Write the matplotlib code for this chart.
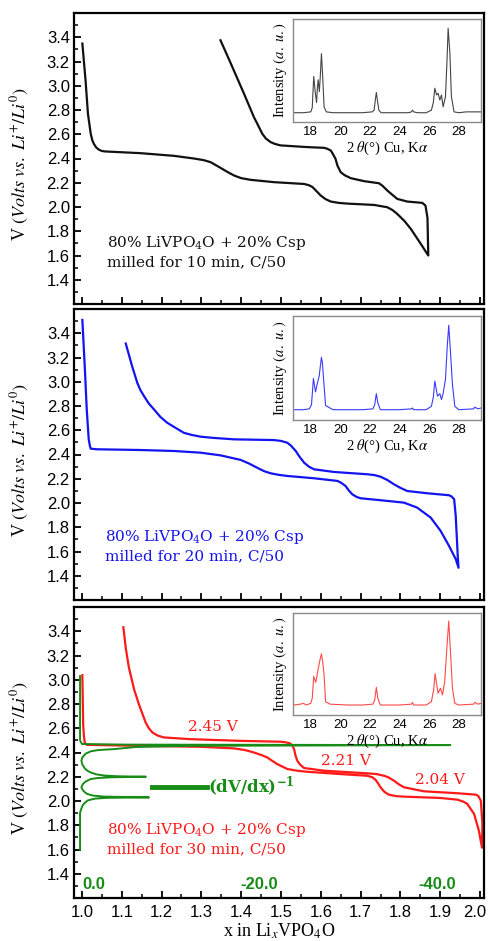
import numpy as np
import matplotlib.pyplot as plt
import matplotlib.transforms as mtransforms
from matplotlib.ticker import MultipleLocator
from matplotlib.lines import Line2D

# ---- galvanostatic curves (x in LixVPO4O, volts): discharge then charge ----
x10 = [1.001, 1.009, 1.015, 1.022, 1.026, 1.030, 1.036, 1.043, 1.050, 1.059, 1.147, 1.231,
       1.281, 1.305, 1.323, 1.348, 1.365, 1.382, 1.400, 1.424, 1.482, 1.558, 1.570, 1.579,
       1.590, 1.600, 1.612, 1.625, 1.645, 1.667, 1.734, 1.767, 1.780, 1.792, 1.810, 1.826,
       1.851, 1.870,
       1.868, 1.863, 1.855, 1.817, 1.792, 1.780, 1.767, 1.755, 1.746, 1.709, 1.675, 1.660,
       1.650, 1.642, 1.637, 1.630, 1.625, 1.615, 1.608, 1.566, 1.499, 1.485, 1.474, 1.462,
       1.453, 1.440, 1.432, 1.407, 1.374, 1.348]
v10 = [3.348, 3.045, 2.77, 2.604, 2.55, 2.52, 2.49, 2.472, 2.462, 2.458, 2.444, 2.422,
       2.40, 2.387, 2.37, 2.323, 2.29, 2.26, 2.238, 2.224, 2.205, 2.19, 2.18, 2.165,
       2.128, 2.094, 2.065, 2.045, 2.034, 2.028, 2.017, 1.998, 1.975, 1.943, 1.885, 1.82,
       1.697, 1.60,
       1.91, 2.012, 2.034, 2.045, 2.067, 2.10, 2.136, 2.175, 2.196, 2.213, 2.238, 2.262,
       2.287, 2.34, 2.397, 2.44, 2.466, 2.482, 2.488, 2.494, 2.508, 2.52, 2.535, 2.565,
       2.604, 2.69, 2.741, 2.935, 3.183, 3.375]

x20 = [1.001, 1.007, 1.012, 1.017, 1.020, 1.022, 1.038, 1.147, 1.231, 1.298, 1.348, 1.399,
       1.420, 1.440, 1.458, 1.474, 1.495, 1.516, 1.583, 1.642, 1.652, 1.662, 1.670, 1.679,
       1.690, 1.700, 1.750, 1.809, 1.842, 1.876, 1.901, 1.922, 1.939, 1.946,
       1.944, 1.939, 1.935, 1.928, 1.922, 1.868, 1.817, 1.800, 1.784, 1.767, 1.750, 1.735,
       1.717, 1.633, 1.583, 1.570, 1.558, 1.547, 1.537, 1.526, 1.516, 1.500, 1.482, 1.382,
       1.330, 1.298, 1.275, 1.256, 1.235, 1.214, 1.197, 1.181, 1.168, 1.156, 1.147, 1.139,
       1.126, 1.110]
v20 = [3.51, 3.128, 2.772, 2.525, 2.47, 2.448, 2.443, 2.437, 2.429, 2.415, 2.393, 2.355,
       2.325, 2.291, 2.262, 2.245, 2.232, 2.223, 2.204, 2.182, 2.165, 2.141, 2.105, 2.072,
       2.05, 2.039, 2.023, 2.003, 1.962, 1.88, 1.77, 1.647, 1.537, 1.466,
       1.565, 1.894, 2.031, 2.055, 2.064, 2.08, 2.099, 2.125, 2.154, 2.19, 2.217, 2.23,
       2.237, 2.256, 2.278, 2.30, 2.333, 2.38, 2.429, 2.47, 2.497, 2.512, 2.519, 2.525,
       2.537, 2.547, 2.562, 2.579, 2.62, 2.662, 2.71, 2.772, 2.82, 2.881, 2.93, 2.991,
       3.128, 3.315]

x30 = [1.001, 1.003, 1.005, 1.007, 1.010, 1.013, 1.147, 1.298, 1.382, 1.410, 1.432, 1.450,
       1.465, 1.490, 1.516, 1.540, 1.566, 1.650, 1.717, 1.730, 1.738, 1.745, 1.750, 1.760,
       1.771, 1.790, 1.809, 1.901, 1.943, 1.958, 1.968, 1.985, 1.997, 2.005,
       2.006, 2.002, 1.996, 1.990, 1.943, 1.859, 1.809, 1.795, 1.784, 1.770, 1.759, 1.740,
       1.717, 1.608, 1.558, 1.548, 1.541, 1.536, 1.533, 1.528, 1.523, 1.510, 1.499, 1.399,
       1.273, 1.206, 1.190, 1.177, 1.168, 1.160, 1.143, 1.131, 1.118, 1.110, 1.104]
v30 = [3.038, 2.633, 2.53, 2.483, 2.468, 2.463, 2.455, 2.447, 2.434, 2.42, 2.40, 2.38,
       2.36, 2.305, 2.264, 2.25, 2.241, 2.222, 2.208, 2.195, 2.173, 2.14, 2.113, 2.075,
       2.052, 2.04, 2.036, 2.025, 2.011, 1.995, 1.976, 1.894, 1.757, 1.615,
       1.812, 2.003, 2.04, 2.052, 2.064, 2.08, 2.113, 2.14, 2.167, 2.195, 2.208, 2.222,
       2.228, 2.25, 2.272, 2.30, 2.332, 2.38, 2.428, 2.46, 2.475, 2.485, 2.489, 2.496,
       2.51, 2.524, 2.54, 2.565, 2.60, 2.647, 2.798, 2.921, 3.099, 3.263, 3.433]

# (dV/dx)^-1 for the 30 min sample, on its own reversed scale
dvdx_v = [1.60, 1.90, 1.921, 1.96, 1.98, 2.003, 2.01, 2.02, 2.026, 2.030, 2.036, 2.045,
          2.058, 2.07, 2.09, 2.112, 2.14, 2.16, 2.181, 2.19, 2.196, 2.200, 2.204, 2.21,
          2.22, 2.235, 2.25, 2.27, 2.30, 2.332, 2.36, 2.39, 2.41, 2.42, 2.428, 2.445,
          2.455, 2.461, 2.465, 2.47, 2.50, 3.03]
dvdx_val = [0.22, 0.22, 0.15, -0.05, -0.25, -0.6, -0.9, -1.5, -2.8, -7.55, -2.5, -1.2,
            -0.6, -0.35, -0.1, 0.07, -0.1, -0.4, -0.98, -1.8, -3.5, -7.2, -4.0, -2.5,
            -1.6, -1.0, -0.6, -0.3, -0.05, 0.07, -0.05, -0.4, -1.0, -1.8, -3.6, -6.0,
            -12.0, -41.5, -5.0, 0.0, 0.22, 0.22]
dvdx_ticks = [0, -20, -40]
dvdx_ticklabels = ['0.0', '-20.0', '-40.0']

plateaus = ['2.45 V', '2.21 V', '2.04 V']
plateau_x = [1.33, 1.663, 1.90]
plateau_y = [2.61, 2.33, 2.17]

# ---- XRD insets (2 theta, normalised intensity) ----
tt10 = [16.85, 17.5, 18.0, 18.1, 18.2, 18.3, 18.39, 18.45, 18.5, 18.58, 18.65, 18.72, 18.8,
        18.9, 19.05, 19.5, 20.5, 21.5, 22.15, 22.28, 22.36, 22.43, 22.5, 22.6, 22.75, 23.5,
        24.6, 24.8, 24.87, 24.95, 25.2, 25.8, 26.15, 26.28, 26.38, 26.5, 26.6, 26.72, 26.83,
        26.94, 27.1, 27.2, 27.28, 27.4, 27.5, 27.68, 28.0, 28.5, 29.5]
i10 = [0.0, 0.0, 0.01, 0.06, 0.43, 0.25, 0.12, 0.30, 0.39, 0.25, 0.45, 0.70, 0.45,
       0.07, 0.01, 0.0, 0.0, 0.0, 0.01, 0.03, 0.15, 0.24, 0.15, 0.03, 0.0, 0.0,
       0.0, 0.01, 0.03, 0.01, 0.0, 0.0, 0.03, 0.12, 0.29, 0.21, 0.23, 0.15, 0.21,
       0.07, 0.19, 0.60, 1.0, 0.70, 0.19, 0.01, 0.0, 0.01, 0.01]

tt20 = [16.85, 17.5, 17.9, 18.05, 18.18, 18.32, 18.43, 18.57, 18.65, 18.72, 18.79, 18.86,
        19.0, 19.3, 19.5, 20.5, 21.5, 22.2, 22.32, 22.43, 22.53, 22.7, 24.0, 24.8, 24.87,
        24.95, 25.8, 26.15, 26.28, 26.38, 26.47, 26.56, 26.72, 26.83, 26.94, 27.1, 27.22,
        27.32, 27.45, 27.57, 27.73, 28.0, 29.0, 29.08, 29.3, 29.5]
i20 = [0.0, 0.0, 0.01, 0.06, 0.37, 0.21, 0.30, 0.40, 0.52, 0.62, 0.55, 0.375,
       0.05, 0.02, 0.0, 0.0, 0.0, 0.01, 0.06, 0.19, 0.08, 0.0, 0.0, 0.01, 0.02,
       0.0, 0.0, 0.04, 0.15, 0.34, 0.25, 0.16, 0.19, 0.12, 0.19, 0.36, 0.75,
       1.0, 0.65, 0.30, 0.04, 0.0, 0.01, 0.03, 0.01, 0.02]

tt30 = [16.85, 17.3, 17.5, 17.7, 18.0, 18.1, 18.2, 18.34, 18.47, 18.6, 18.72, 18.8, 18.9,
        19.0, 19.3, 20.5, 21.5, 22.2, 22.32, 22.43, 22.53, 22.7, 24.0, 24.8, 24.87, 24.95,
        25.8, 26.15, 26.3, 26.4, 26.5, 26.6, 26.76, 26.9, 27.05, 27.2, 27.32, 27.45, 27.57,
        27.73, 28.0, 29.0, 29.08, 29.3, 29.5]
i30 = [0.0, 0.01, 0.02, 0.0, 0.02, 0.08, 0.34, 0.27, 0.40, 0.52, 0.61, 0.52, 0.36,
       0.04, 0.01, 0.0, 0.0, 0.01, 0.06, 0.21, 0.08, 0.0, 0.0, 0.01, 0.03, 0.0,
       0.0, 0.04, 0.18, 0.375, 0.25, 0.14, 0.20, 0.12, 0.28, 0.70, 1.0, 0.60, 0.20,
       0.02, 0.0, 0.01, 0.03, 0.01, 0.02]

sample_text = r"80% LiVPO$_4$O + 20% Csp" + "\nmilled for {} min, C/50"
mill_times = [10, 20, 30]

BLACK = '#111111'
BLUE = '#1414f0'
RED = '#ff1a1a'
GREEN = '#178c17'

narrow = ['Liberation Sans Narrow', 'Liberation Sans', 'DejaVu Sans']
serif = ['Liberation Serif', 'DejaVu Serif']

fig = plt.figure(figsize=(4.88, 9.41), dpi=100)

W, H = 488.0, 941.0
left, width = 74 / W, 410 / W
panel_tops = [13, 309, 607]
panel_h = 291

curves = [(x10, v10, BLACK), (x20, v20, BLUE), (x30, v30, RED)]
text_y = [1.63, 1.65, 1.69]
text_x = [1.063, 1.058, 1.063]

axes = []
for k, top in enumerate(panel_tops):
    ax = fig.add_axes([left, (H - top - panel_h) / H, width, panel_h / H])
    xs, vs, col = curves[k]
    ax.plot(xs, vs, color=col, lw=1.6, solid_joinstyle='round')
    ax.set_xlim(0.98, 2.01)
    ax.set_ylim(1.2, 3.6)
    ax.set_yticks(np.round(np.arange(1.4, 3.41, 0.2), 1))
    ax.yaxis.set_minor_locator(MultipleLocator(0.1))
    ax.set_xticks(np.round(np.arange(1.0, 2.01, 0.1), 1))
    ax.xaxis.set_minor_locator(MultipleLocator(0.05))
    ax.tick_params(which='major', direction='in', length=5, width=1.3, labelsize=12, pad=3)
    ax.tick_params(which='minor', direction='in', length=3, width=1.1)
    ax.tick_params(axis='x', which='major', pad=5)
    ax.tick_params(top=False, right=False, which='both')
    for lab in ax.get_yticklabels() + ax.get_xticklabels():
        lab.set_family(narrow)
    if k < 2:
        ax.tick_params(axis='x', labelbottom=False)
    for s in ax.spines.values():
        s.set_linewidth(1.6)
    ax.set_ylabel(r"V $(Volts\ vs.\ Li^{+}/Li^{0})$", fontsize=13, family=serif,
                  math_fontfamily='stix')
    ax.yaxis.set_label_coords(-0.105, 0.48)
    ax.text(text_x[k], text_y[k], sample_text.format(mill_times[k]), color=col,
            fontsize=11, family='DejaVu Serif', math_fontfamily='dejavuserif',
            va='center', ha='left', linespacing=1.25)
    axes.append(ax)

ax3 = axes[2]
ax3.set_xlabel(r"x in Li$_x$VPO$_4$O", fontsize=13, family=serif, math_fontfamily='stix',
               labelpad=1)
# keep the last tick label inside the figure
last = ax3.get_xticklabels()[-1]
last.set_transform(last.get_transform() +
                   mtransforms.ScaledTranslation(-5 / 100, 0, fig.dpi_scale_trans))

for lbl, px, py in zip(plateaus, plateau_x, plateau_y):
    ax3.text(px, py, lbl, color=RED, fontsize=11, family='DejaVu Serif',
             ha='center', va='center')

axg = ax3.twiny()
axg.plot(dvdx_val, dvdx_v, color=GREEN, lw=1.4)
axg.set_xlim(0.9, -45.3)
axg.set_ylim(1.2, 3.6)
for s in axg.spines.values():
    s.set_visible(False)
axg.xaxis.set_ticks_position('bottom')
axg.set_xticks(dvdx_ticks)
axg.set_xticklabels(dvdx_ticklabels)
axg.tick_params(axis='x', direction='in', length=0, pad=-15, labelcolor=GREEN,
                labelsize=12, top=False)
for lab in axg.get_xticklabels():
    lab.set_family(narrow)
    lab.set_weight('bold')
axg.get_xticklabels()[0].set_ha('left')

leg_handle = Line2D([], [], color=GREEN, lw=3.5)
leg = ax3.legend([leg_handle], [r"$\mathbf{(dV/dx)^{-1}}$"], loc='center left',
                 bbox_to_anchor=(0.19, 0.383), frameon=False, borderpad=0,
                 borderaxespad=0, handlelength=3.3, handletextpad=0.05,
                 prop={'family': 'DejaVu Serif', 'size': 12})
for t in leg.get_texts():
    t.set_color(GREEN)
    t.set_math_fontfamily('dejavuserif')

# XRD insets
inset_tops = [19, 316, 613]
inset_hs = [103, 104, 102]
xrd = [(tt10, i10, '#444444', (-0.11, 1.11)),
       (tt20, i20, '#3a3aff', (-0.122, 1.11)),
       (tt30, i30, '#ff4a4a', (-0.119, 1.096))]
for k in range(3):
    tt, ii, col, yl = xrd[k]
    ins = fig.add_axes([293 / W, (H - inset_tops[k] - inset_hs[k]) / H, 188 / W, inset_hs[k] / H])
    ins.plot(tt, ii, color=col, lw=0.8)
    ins.set_xlim(16.8, 29.5)
    ins.set_ylim(*yl)
    ins.set_yticks([])
    ins.set_xticks(range(18, 29, 2))
    ins.tick_params(axis='x', length=0, pad=3, labelsize=9.5)
    for lab in ins.get_xticklabels():
        lab.set_family(narrow)
    for s in ins.spines.values():
        s.set_color('#8a8a8a')
        s.set_linewidth(1.0)
    ins.set_xlabel(r"2 $\theta$(°) Cu, K$\alpha$", fontsize=10.5, family=serif,
                   math_fontfamily='stix', labelpad=1)
    ins.set_ylabel(r"Intensity $(a.\ u.)$", fontsize=10.5, family=serif,
                   math_fontfamily='stix', labelpad=3)

fig.savefig('out.png', dpi=100)
